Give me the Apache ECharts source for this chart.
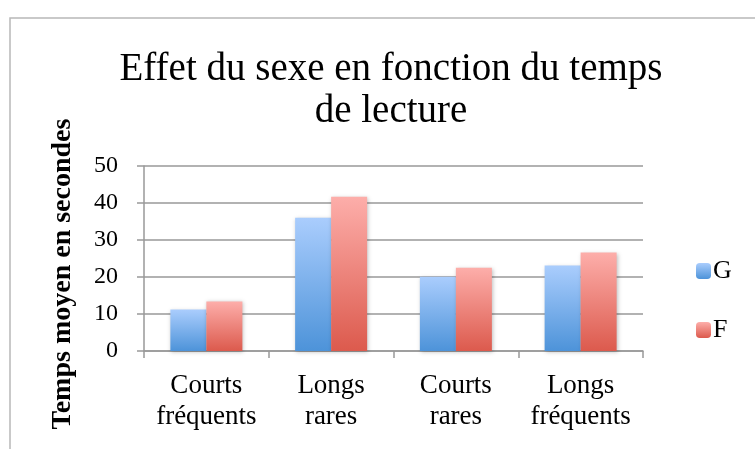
<!DOCTYPE html>
<html><head><meta charset="utf-8">
<script src="https://cdn.jsdelivr.net/npm/echarts@6/dist/echarts.min.js"></script>
<style>html,body{margin:0;padding:0;background:#fff}#c{width:755px;height:449px}</style>
</head><body><div id="c"></div>
<script>
const categories = ['Courts\nfréquents', 'Longs\nrares', 'Courts\nrares', 'Longs\nfréquents'];
const seriesNames = ['G', 'F'];
const valuesG = [11.2, 36.0, 20.1, 23.1];
const valuesF = [13.4, 41.7, 22.5, 26.6];
const yTicks = {min: 0, max: 50, interval: 10};
const titleText = 'Effet du sexe en fonction du temps\nde lecture';
const yName = 'Temps moyen en secondes';

const serif = '"Liberation Serif", "DejaVu Serif", serif';
function grad(top, bottom) {
  return new echarts.graphic.LinearGradient(0, 0, 0, 1, [{offset: 0, color: top}, {offset: 1, color: bottom}]);
}
const chart = echarts.init(document.getElementById('c'), null, {renderer: 'canvas'});
chart.setOption({
  animation: false,
  backgroundColor: '#fff',
  graphic: [
    {type: 'rect', shape: {x: 10, y: 18, width: 800, height: 500}, style: {fill: 'none', stroke: '#b8b8b8', lineWidth: 1.5}, silent: true},
    {type: 'text', x: 63, y: 274, rotation: Math.PI / 2, silent: true,
      style: {text: yName, fontFamily: serif, fontSize: 28, fontWeight: 'bold', fill: '#000', textAlign: 'center', textVerticalAlign: 'middle'}}
  ],
  title: {text: titleText, left: 386, textAlign: 'center', top: 44,
    textStyle: {fontFamily: serif, fontSize: 39, fontWeight: 'normal', color: '#000', lineHeight: 42}},
  legend: {orient: 'vertical', left: 691, top: 253, itemGap: 33, itemWidth: 15, itemHeight: 16,
    textStyle: {fontFamily: serif, fontSize: 26, color: '#000', padding: [0, 0, 0, -3]}, data: seriesNames},
  grid: {left: 144, right: 112, top: 166, bottom: 98, containLabel: false},
  xAxis: {type: 'category', data: categories,
    axisLine: {lineStyle: {color: '#999', width: 1.5}},
    axisTick: {show: true, length: 7, lineStyle: {color: '#999', width: 1.5}},
    axisLabel: {interval: 0, fontFamily: serif, fontSize: 27, color: '#000', lineHeight: 31, margin: 19}},
  yAxis: {type: 'value', min: yTicks.min, max: yTicks.max, interval: yTicks.interval,
    axisLine: {show: true, lineStyle: {color: '#999', width: 1.5}},
    axisTick: {show: true, length: 7, lineStyle: {color: '#999', width: 1.5}},
    splitLine: {lineStyle: {color: '#999', width: 1.5}},
    axisLabel: {fontFamily: serif, fontSize: 24, color: '#000', margin: 26}},
  series: [
    {name: seriesNames[0], type: 'bar', data: valuesG, barWidth: 36, barGap: '0%',
      itemStyle: {color: grad('#aacdfd', '#4d93d9'), shadowColor: 'rgba(0,0,0,0.25)', shadowBlur: 4, shadowOffsetX: 1, shadowOffsetY: 1}},
    {name: seriesNames[1], type: 'bar', data: valuesF, barWidth: 36, barGap: '0%',
      itemStyle: {color: grad('#fdaeaa', '#dc5a4d'), shadowColor: 'rgba(0,0,0,0.25)', shadowBlur: 4, shadowOffsetX: 1, shadowOffsetY: 1}}
  ]
});
</script></body></html>
